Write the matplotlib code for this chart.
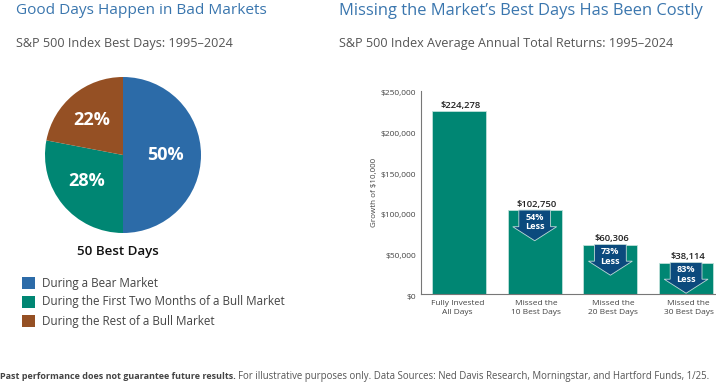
import matplotlib
matplotlib.use('Agg')
import matplotlib.pyplot as plt
from matplotlib.patches import Polygon
from matplotlib.ticker import FuncFormatter
from matplotlib.transforms import ScaledTranslation

W, H = 716, 386
plt.rcParams['font.family'] = ['Open Sans', 'DejaVu Sans']

pie_values = [50, 28, 22]
pie_labels = ['50%', '28%', '22%']
pie_colors = ['#2C6BA8', '#008673', '#955024']
legend_labels = ['During a Bear Market', 'During the First Two Months of a Bull Market', 'During the Rest of a Bull Market']

bar_names = ['Fully Invested\nAll Days', 'Missed the\n10 Best Days', 'Missed the\n20 Best Days', 'Missed the\n30 Best Days']
bar_values = [224278, 102750, 60306, 38114]
bar_less = [None, '54%\nLess', '73%\nLess', '83%\nLess']
y_ticks = [0, 50000, 100000, 150000, 200000, 250000]

TEAL = '#008673'
NAVY = '#0B4A7D'
TITLE = '#3A76AE'
GREY = '#555555'
DARK = '#222222'

fig = plt.figure(figsize=(W / 100, H / 100), dpi=100, facecolor='white')

def axbox(x0, y0, x1, y1):
    return fig.add_axes([x0 / W, 1 - y1 / H, (x1 - x0) / W, (y1 - y0) / H])

def txt(x, y, s, **kw):
    return fig.text(x / W, 1 - y / H, s, **kw)

# Titles
txt(16, 11, 'Good Days Happen in Bad Markets', fontsize=11.1, color=TITLE, va='center')
txt(339, 11, 'Missing the Market\u2019s Best Days Has Been Costly', fontsize=11.9, color=TITLE, va='center')
txt(16, 44, 'S&P 500 Index Best Days: 1995\u20132024', fontsize=9.1, color=GREY, va='center')
txt(339, 44, 'S&P 500 Index Average Annual Total Returns: 1995\u20132024', fontsize=9.1, color=GREY, va='center')

# Pie
ax = axbox(45, 77, 201, 233)
wedges, _ = ax.pie(pie_values, colors=pie_colors, startangle=90, counterclock=False, radius=1)
ax.set_xlim(-1, 1)
ax.set_ylim(-1, 1)
ax.set_aspect('equal')
label_xy = [(0.55, 0.0), (-0.46, -0.33), (-0.40, 0.45)]
for (x, y), s in zip(label_xy, pie_labels):
    ax.text(x, y, s, color='white', fontsize=13, fontweight='bold', ha='center', va='center')

txt(118, 251, '50 Best Days', fontsize=9.6, fontweight='semibold', color='#111111', ha='center', va='center')

# Legend
for yc, c, s in zip([283, 302, 321], pie_colors, legend_labels):
    fig.patches.append(plt.Rectangle((22 / W, 1 - (yc + 6) / H), 12.5 / W, 12.5 / H,
                                     transform=fig.transFigure, facecolor=c, edgecolor='none'))
    txt(42, yc, s, fontsize=8.4, color='#444444', va='center')

# Bars
bx = axbox(421, 90.5, 716, 293.5)
xs = list(range(len(bar_values)))
bx.bar(xs, bar_values, width=0.713, color=TEAL, edgecolor='#BFE0DA', linewidth=0.6)
bx.set_xlim(-0.502, 3.395)
bx.set_ylim(0, 250000)
bx.set_yticks(y_ticks)
bx.yaxis.set_major_formatter(FuncFormatter(lambda v, _: f'${v:,.0f}'))
bx.set_xticks(xs)
bx.set_xticklabels(bar_names, linespacing=1.35)
bx.tick_params(axis='both', length=0, labelsize=6.0, labelcolor='#444444')
bx.tick_params(axis='y', pad=3.5)
bx.tick_params(axis='x', pad=5)
shift = ScaledTranslation(0, -1.8 / 72, fig.dpi_scale_trans)
for lab in bx.get_yticklabels():
    lab.set_transform(lab.get_transform() + shift)
for lab, dx in zip(bx.get_xticklabels(), [-1.3, 1.2, 2.7, 2.7]):
    lab.set_transform(lab.get_transform() + ScaledTranslation(dx / 100, 0, fig.dpi_scale_trans))
for s in ['top', 'right']:
    bx.spines[s].set_visible(False)
for s in ['left', 'bottom']:
    bx.spines[s].set_color('#777777')
    bx.spines[s].set_linewidth(0.8)
bx.set_ylabel(r'Growth of \$10,000', fontsize=5.8, color='#444444', labelpad=2.2)

for x, v, less in zip(xs, bar_values, bar_less):
    bx.text(x + 0.025, v + 1800, f'${v:,}', ha='center', va='bottom',
            fontsize=6.8, fontweight='semibold', color=DARK)
    if less:
        sw, hw, sd, td = 0.21, 0.29, 20500, 37800
        pts = [(x - sw, v), (x + sw, v), (x + sw, v - sd), (x + hw, v - sd),
               (x, v - td), (x - hw, v - sd), (x - sw, v - sd)]
        bx.add_patch(Polygon(pts, closed=True, facecolor=NAVY, edgecolor='#BFDAD8', linewidth=0.6, zorder=3))
        bx.text(x, v - 14700, less, ha='center', va='center', color='white', fontsize=6.6,
                fontweight='bold', linespacing=1.05, zorder=4)

# Footnote
t = txt(0, 376.5, 'Past performance does not guarantee future results.', fontsize=6.5, fontweight='bold',
        color='#444444', va='center')
fig.canvas.draw()
bb = t.get_window_extent()
txt(bb.x1 + 2, 376.5, 'For illustrative purposes only. Data Sources: Ned Davis Research, Morningstar, and Hartford Funds, 1/25.',
    fontsize=6.9, color='#555555', va='center')

fig.savefig('out.png', dpi=100)
